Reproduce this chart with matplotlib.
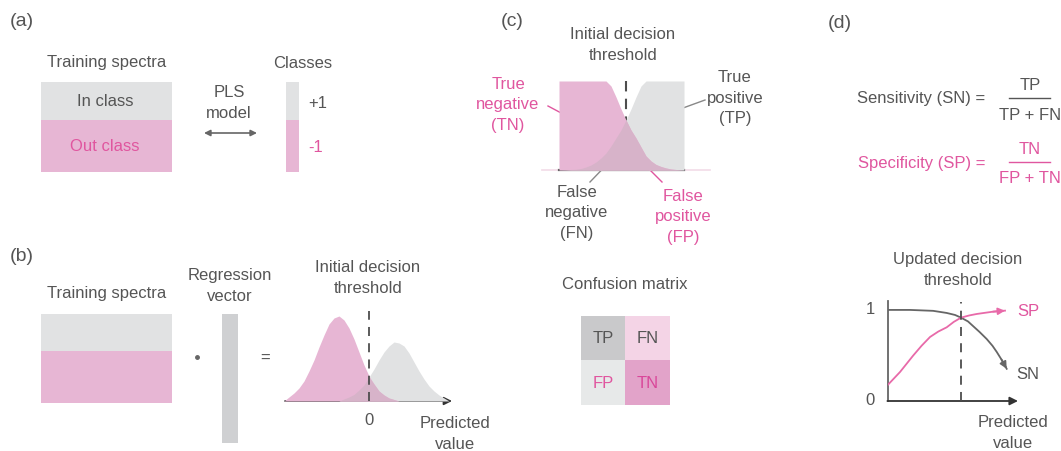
import numpy as np
import matplotlib
matplotlib.use("Agg")
import matplotlib.pyplot as plt
from matplotlib.patches import Rectangle

plt.rcParams['font.family'] = ['Liberation Sans', 'DejaVu Sans']

# ---------------- data ----------------
panel_labels = ['(a)', '(b)', '(c)', '(d)']
class_names = ['In class', 'Out class']
class_values = ['+1', '-1']

# (b) predicted-value distributions (threshold at 0)
b_x = [-8.5, -8.0, -7.5, -7.0, -6.5, -6.0, -5.5, -5.0, -4.5, -4.0, -3.5, -3.0,
       -2.5, -2.0, -1.5, -1.0, -0.5, 0.0, 0.5, 1.0, 1.5, 2.0, 2.5, 3.0,
       3.5, 4.0, 4.5, 5.0, 5.5, 6.0, 6.5, 7.0, 7.5, 8.0]
b_out = [0.0, 0.4, 0.8, 1.3, 2.0, 3.0, 4.1, 5.4, 6.6, 7.7, 8.3, 8.5,
         8.1, 7.3, 6.2, 4.9, 3.6, 2.5, 1.7, 1.0, 0.6, 0.3, 0.15, 0.0,
         0.0, 0.0, 0.0, 0.0, 0.0, 0.0, 0.0, 0.0, 0.0, 0.0]
b_in = [0.0, 0.0, 0.0, 0.0, 0.0, 0.0, 0.0, 0.0, 0.0, 0.0, 0.0, 0.0,
        0.2, 0.4, 0.65, 1.1, 1.6, 2.4, 3.2, 4.1, 4.9, 5.5, 5.9, 5.8,
        5.5, 4.8, 3.9, 3.0, 2.2, 1.5, 1.0, 0.6, 0.3, 0.0]

# (c) zoomed distributions around the threshold
c_x = [-6.7, -6.0, -5.0, -4.5, -4.0, -3.5, -3.0, -2.5, -2.0, -1.5, -1.0, -0.5,
       0.0, 0.5, 1.0, 1.5, 2.0, 2.5, 3.0, 3.5, 4.0, 4.5, 5.0, 5.8]
c_tn = [8.9, 8.9, 8.9, 8.9, 8.9, 8.9, 8.9, 8.9, 8.9, 8.4, 7.3, 6.1,
        5.0, 4.0, 3.2, 2.3, 1.4, 0.9, 0.55, 0.35, 0.2, 0.1, 0.05, 0.0]
c_tp = [0.0, 0.02, 0.08, 0.15, 0.3, 0.5, 0.8, 1.2, 1.7, 2.4, 3.2, 4.0,
        5.0, 6.1, 7.3, 8.4, 8.9, 8.9, 8.9, 8.9, 8.9, 8.9, 8.9, 8.9]

# confusion matrix
cm_labels = [['TP', 'FN'], ['FP', 'TN']]

# (d) sensitivity / specificity vs predicted value
sn_x = [0.0, 0.17, 0.35, 0.455, 0.52, 0.566, 0.62, 0.659, 0.71, 0.765, 0.81, 0.843, 0.88, 0.92]
sn_y = [0.99, 0.99, 0.98, 0.957, 0.935, 0.906, 0.865, 0.815, 0.75, 0.674, 0.6, 0.533, 0.45, 0.35]
sp_x = [0.0, 0.093, 0.194, 0.26, 0.326, 0.39, 0.455, 0.51, 0.566, 0.63, 0.688, 0.814, 0.907]
sp_y = [0.177, 0.315, 0.492, 0.6, 0.696, 0.755, 0.801, 0.86, 0.906, 0.93, 0.946, 0.971, 0.982]
threshold_d = 0.566

# ---------------- style ----------------
GRAY_FILL = '#e1e2e3'
PINK_FILL = '#e7b6d4'
MAUVE = '#d7b3c9'
VEC = '#cfd0d2'
TXT = '#555555'
PINK_TXT = '#e0569f'
DARK = '#4d4d4d'
FS = 12
LS = 1.45

W, H = 1061, 452
fig = plt.figure(figsize=(W / 100, H / 100), dpi=100)
ax = fig.add_axes([0, 0, 1, 1])
ax.set_xlim(0, W)
ax.set_ylim(H, 0)
ax.axis('off')


def sub_axes(x0, x1, ytop, ybot, xlim, ylim):
    a = fig.add_axes([x0 / W, 1 - ybot / H, (x1 - x0) / W, (ybot - ytop) / H])
    a.set_xlim(*xlim)
    a.set_ylim(*ylim)
    a.axis('off')
    a.patch.set_alpha(0)
    return a


def txt(x, y, s, color=TXT, size=FS, **kw):
    ax.text(x, y, s, color=color, fontsize=size, ha='center', va='center',
            linespacing=LS, **kw)


# panel labels
for lab, (x, y) in zip(panel_labels, [(22, 22), (22, 257), (512, 22), (840, 24)]):
    txt(x, y, lab, size=14)

# ---------------- (a) ----------------
txt(107, 63, 'Training spectra')
ax.add_patch(Rectangle((41, 83), 131, 38, color=GRAY_FILL, lw=0))
ax.add_patch(Rectangle((41, 121), 131, 52, color=PINK_FILL, lw=0))
txt(105, 102, class_names[0])
txt(105, 147, class_names[1], color=PINK_TXT)
txt(229, 103, 'PLS\nmodel')
ax.annotate('', xy=(257, 134), xytext=(204, 134),
            arrowprops=dict(arrowstyle='<|-|>', color='#666666', lw=1.2,
                            mutation_scale=9, shrinkA=0, shrinkB=0))
txt(303, 63, 'Classes')
ax.add_patch(Rectangle((286, 83), 13, 38, color=GRAY_FILL, lw=0))
ax.add_patch(Rectangle((286, 121), 13, 52, color=PINK_FILL, lw=0))
txt(318, 104, class_values[0])
txt(316, 148, class_values[1], color=PINK_TXT)

# ---------------- (b) ----------------
txt(107, 294, 'Training spectra')
ax.add_patch(Rectangle((41, 315), 131, 37, color=GRAY_FILL, lw=0))
ax.add_patch(Rectangle((41, 352), 131, 52, color=PINK_FILL, lw=0))
ax.plot([197], [358], 'o', color='#666666', ms=2.5)
txt(230, 286, 'Regression\nvector')
ax.add_patch(Rectangle((222, 315), 16, 129, color=VEC, lw=0))
txt(265, 358, '=')
txt(368, 278, 'Initial decision\nthreshold')

bx = sub_axes(285, 452, 312, 402, (-8.4, 8.3), (0, 9.0))
bo = np.array(b_out)
bi = np.array(b_in)
bx.fill_between(b_x, 0, bi, color=GRAY_FILL, lw=0)
bx.fill_between(b_x, 0, bo, color=PINK_FILL, lw=0)
bx.fill_between(b_x, 0, np.minimum(bo, bi), color=MAUVE, lw=0)
bx.plot([0, 0], [0, 9.0], color=DARK, lw=1.3, dashes=(5, 4))
ax.annotate('', xy=(452, 402), xytext=(285, 402),
            arrowprops=dict(arrowstyle='-|>', color='#333333', lw=1.2,
                            mutation_scale=12, shrinkA=0, shrinkB=0))
txt(369, 421, '0')
txt(455, 434, 'Predicted\nvalue')

# ---------------- (c) ----------------
txt(623, 45, 'Initial decision\nthreshold')
cx = sub_axes(559, 684, 82, 171, (-6.7, 5.8), (0, 8.9))
tn = np.array(c_tn)
tp = np.array(c_tp)
cx.fill_between(c_x, 0, tp, color=GRAY_FILL, lw=0)
cx.fill_between(c_x, 0, tn, color=PINK_FILL, lw=0)
cx.fill_between(c_x, 0, np.minimum(tn, tp), color=MAUVE, lw=0)
ax.plot([542, 710], [171, 171], color='#f2dbe8', lw=1.2)
ax.plot([559, 684], [171, 171], color='#666666', lw=1.6)
ax.plot([626, 626], [82, 171], color=DARK, lw=1.5, dashes=(5, 3.5))

txt(508, 105, 'True\nnegative\n(TN)', color=PINK_TXT)
ax.plot([548, 580], [107, 124], color=PINK_TXT, lw=1)
txt(735, 98, 'True\npositive\n(TP)')
ax.plot([672, 705], [113, 101], color='#888888', lw=1)
txt(577, 213, 'False\nnegative\n(FN)')
ax.plot([590, 615], [183, 157], color='#888888', lw=1)
txt(683, 217, 'False\npositive\n(FP)', color=PINK_TXT)
ax.plot([637, 662], [158, 183], color=PINK_TXT, lw=1)

# confusion matrix
txt(625, 285, 'Confusion matrix')
cm_colors = [['#c9c9cb', '#f4d4e6'], ['#e7e9e9', '#e2a3c9']]
cm_tcolors = [[TXT, TXT], [PINK_TXT, '#d9479a']]
xs = [581, 625, 670]
ys = [317, 361, 406]
for i in range(2):
    for j in range(2):
        ax.add_patch(Rectangle((xs[j], ys[i]), xs[j + 1] - xs[j], ys[i + 1] - ys[i],
                               color=cm_colors[i][j], lw=0))
        txt((xs[j] + xs[j + 1]) / 2, (ys[i] + ys[i + 1]) / 2, cm_labels[i][j],
            color=cm_tcolors[i][j])

# ---------------- (d) ----------------
ax.text(985, 99, 'Sensitivity (SN) =', color=TXT, fontsize=FS, ha='right', va='center')
txt(1030, 85, 'TP')
ax.plot([1009, 1050], [99, 99], color=TXT, lw=1)
txt(1030, 115, 'TP + FN')
ax.text(985, 164, 'Specificity (SP) =', color=PINK_TXT, fontsize=FS, ha='right', va='center')
txt(1030, 150, 'TN', color=PINK_TXT)
ax.plot([1009, 1050], [163, 163], color=PINK_TXT, lw=1)
txt(1030, 179, 'FP + TN', color=PINK_TXT)

txt(958, 270, 'Updated decision\nthreshold')
dx = sub_axes(888, 1017, 302, 402, (0, 1), (0, (402 - 302) / 92))
dx.plot(sn_x, sn_y, color='#666666', lw=1.3)
dx.annotate('', xy=(sn_x[-1], sn_y[-1]), xytext=(sn_x[-2], sn_y[-2]),
            arrowprops=dict(arrowstyle='-|>', color='#666666', lw=1.3,
                            mutation_scale=10, shrinkA=0, shrinkB=0))
dx.plot(sp_x, sp_y, color='#e86aa9', lw=1.3)
dx.annotate('', xy=(sp_x[-1], sp_y[-1]), xytext=(sp_x[-2], sp_y[-2]),
            arrowprops=dict(arrowstyle='-|>', color='#e86aa9', lw=1.3,
                            mutation_scale=10, shrinkA=0, shrinkB=0))
dx.plot([threshold_d, threshold_d], [0, (402 - 303) / 92], color=DARK, lw=1.3, dashes=(5, 4))
ax.plot([888, 888], [302, 402], color='#666666', lw=1.3)
ax.annotate('', xy=(1018, 402), xytext=(887.4, 402),
            arrowprops=dict(arrowstyle='-|>', color='#333333', lw=1.3,
                            mutation_scale=12, shrinkA=0, shrinkB=0))
txt(870, 310, '1')
txt(870, 401, '0')
txt(1028, 312, 'SP', color=PINK_TXT)
txt(1028, 375, 'SN')
txt(1013, 433, 'Predicted\nvalue')

fig.savefig('out.png', dpi=100)
